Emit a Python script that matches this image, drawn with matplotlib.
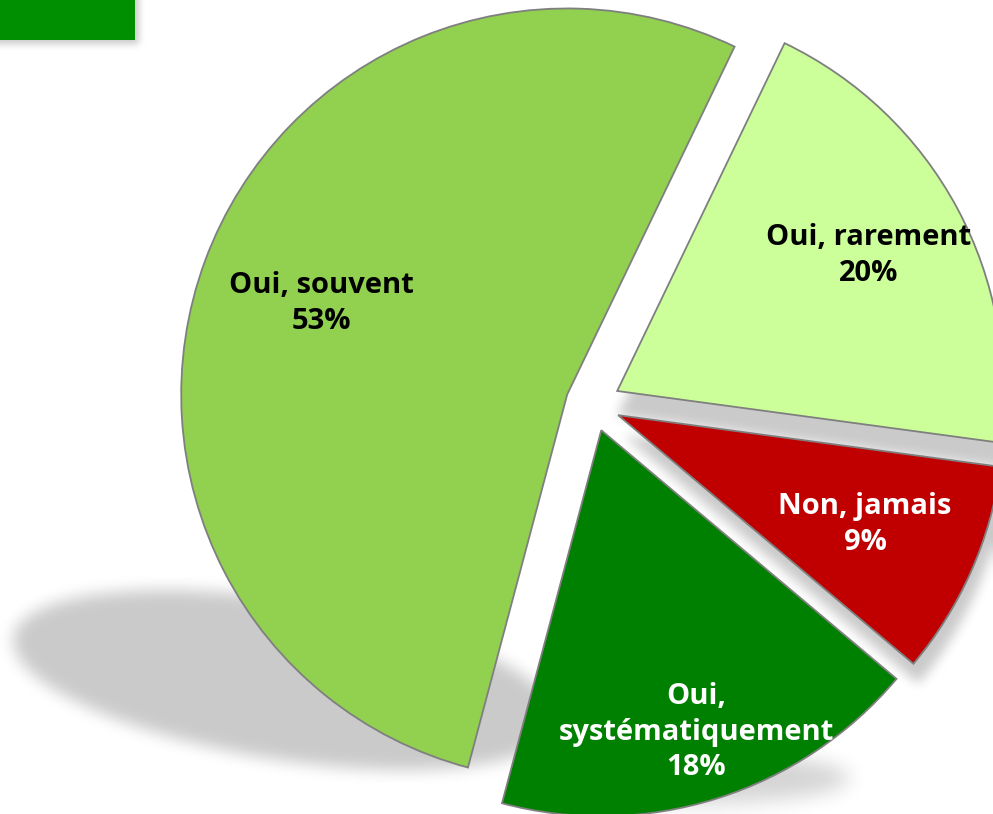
import numpy as np
import matplotlib
matplotlib.use('Agg')
import matplotlib.pyplot as plt
from matplotlib.patches import Rectangle

W, H = 993, 814

# ---- data ----
categories = ['Oui, souvent', 'Oui,\nsystématiquement', 'Non, jamais', 'Oui, rarement']
values = [53, 18, 9, 20]

# ---- style ----
colors = ['#92D050', '#008000', '#C00000', '#CCFF99']
text_colors = ['#000000', '#FFFFFF', '#FFFFFF', '#000000']
label_radius = [0.68, 0.82, 0.70, 0.74]

fig = plt.figure(figsize=(W / 100, H / 100), dpi=100)
ax = fig.add_axes([0, 0, 1, 1])

R = 386
cx, cy = 593, H - 404
wedges, _ = ax.pie(values, colors=colors, startangle=64.3, counterclock=True,
                   radius=R, center=(cx, cy), explode=[27.5] * len(values),
                   wedgeprops=dict(edgecolor='#7F7F7F', linewidth=1.3, zorder=2))

# ---- soft shadows (raster) ----
yy, xx = np.mgrid[0:H, 0:W] + 0.5


def wedge_mask(w, sx=0.0, sy=0.0):
    wx, wy = w.center
    px = wx + sx
    py = (H - wy) + sy
    dx = xx - px
    dy = -(yy - py)
    r = np.hypot(dx, dy)
    ang = np.degrees(np.arctan2(dy, dx))
    rel = (ang - w.theta1) % 360
    return ((r <= w.r) & (rel <= (w.theta2 - w.theta1))).astype(float)


def ellipse_mask(ex, ey, a, b, ang_deg):
    t = np.radians(ang_deg)
    dx = xx - ex
    dy = yy - ey
    u = dx * np.cos(t) + dy * np.sin(t)
    v = -dx * np.sin(t) + dy * np.cos(t)
    return ((u / a) ** 2 + (v / b) ** 2 <= 1).astype(float)


def blur(img, r, n=3):
    for _ in range(n):
        for axis in (0, 1):
            pad = [(0, 0), (0, 0)]
            pad[axis] = (r + 1, r)
            p = np.pad(img, pad, mode='edge')
            c = np.cumsum(p, axis=axis)
            if axis == 0:
                img = (c[2 * r + 1:, :] - c[:-2 * r - 1, :]) / (2 * r + 1)
            else:
                img = (c[:, 2 * r + 1:] - c[:, :-2 * r - 1]) / (2 * r + 1)
    return img


big = blur(ellipse_mask(285, 680, 275, 80, 9), 7)
low = 0.8 * blur(ellipse_mask(690, 778, 160, 26, 0), 9)
red_sh = blur(wedge_mask(wedges[2], 5, 20), 5)
rare_sh = blur(wedge_mask(wedges[3], 0, 25), 5)

rect_sh = np.zeros((H, W))
rect_sh[0:44, 0:139] = 1.0
rect_sh = blur(rect_sh, 3)

shadow = np.maximum.reduce([big, low, red_sh, rare_sh, rect_sh])

rgba = np.zeros((H, W, 4))
rgba[..., 3] = 0.21 * shadow
ax.imshow(rgba, extent=(0, W, 0, H), origin='upper', zorder=0,
          interpolation='bilinear')

# ---- top-left green block ----
ax.add_patch(Rectangle((0, H - 40), 135, 50, facecolor='#008F00',
                       edgecolor='none', zorder=3))

# ---- labels ----
for w, cat, v, tc, lr in zip(wedges, categories, values, text_colors, label_radius):
    thm = np.radians(0.5 * (w.theta1 + w.theta2))
    x = w.center[0] + lr * w.r * np.cos(thm)
    y = w.center[1] + lr * w.r * np.sin(thm)
    ax.text(x, y, f'{cat}\n{v}%', ha='center', va='center', color=tc,
            fontsize=21, fontweight='bold', family=['Open Sans', 'DejaVu Sans'],
            linespacing=1.3, zorder=4)

ax.set_aspect('auto')
ax.set_xlim(0, W)
ax.set_ylim(0, H)
ax.axis('off')

fig.savefig('out.png', dpi=100)
